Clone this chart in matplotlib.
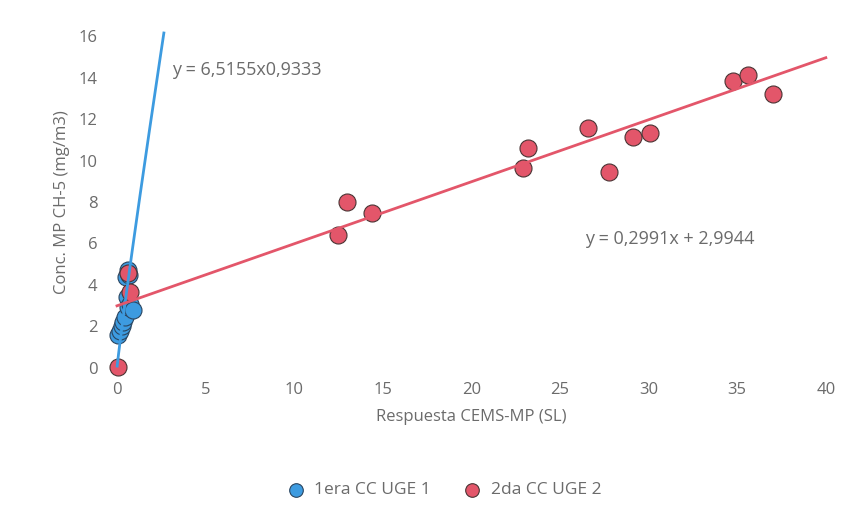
import numpy as np
import matplotlib.pyplot as plt

plt.rcParams['font.family'] = ['Open Sans', 'DejaVu Sans']

# 1era CC UGE 1 (respuesta, concentracion)
uge1_x = [0.06, 0.15, 0.28, 0.35, 0.45, 0.56, 0.62, 0.75, 0.9, 0.5, 0.6, 0.7]
uge1_y = [1.6, 1.8, 2.0, 2.2, 2.46, 3.4, 2.94, 3.1, 2.8, 4.4, 4.7, 4.5]

# 2da CC UGE 2
uge2_x = [0.05, 0.62, 0.73, 12.47, 12.98, 14.4, 22.9, 23.2, 26.6, 27.76, 29.1, 30.1, 34.75, 35.6, 37.0]
uge2_y = [0.05, 4.58, 3.66, 6.41, 8.0, 7.47, 9.64, 10.6, 11.57, 9.45, 11.13, 11.33, 13.83, 14.12, 13.2]

# trendlines reported on the chart
pow_a, pow_b = 6.5155, 0.9333
lin_m, lin_c = 0.2991, 2.9944

text_col = '#6b6b6b'
blue = '#3d9be0'
red = '#e3566a'

fig = plt.figure(figsize=(8.54, 5.16), dpi=100)
ax = fig.add_axes([0.137, 0.287, 0.830, 0.643])

ax.scatter(uge2_x, uge2_y, s=150, color=red, edgecolors='#4a3434', linewidths=0.8,
           zorder=3, clip_on=False, label='2da CC UGE 2')
ax.scatter(uge1_x, uge1_y, s=150, color=blue, edgecolors='#2a4560', linewidths=0.8,
           zorder=2, clip_on=False, label='1era CC UGE 1')

# power fit for UGE 1
xp = np.linspace(0.01, (16.15 / pow_a) ** (1 / pow_b), 200)
ax.plot(xp, pow_a * xp ** pow_b, color=blue, lw=2.0, zorder=4, clip_on=False)

# linear fit for UGE 2
xl = np.array([0.0, 40.0])
ax.plot(xl, lin_m * xl + lin_c, color=red, lw=2.0, zorder=4, clip_on=False)

ax.text(3.1, 14.35, 'y = 6,5155x0,9333', color=text_col, fontsize=13, va='center')
ax.text(26.4, 6.2, 'y = 0,2991x + 2,9944', color=text_col, fontsize=13, va='center')

ax.set_xlim(0, 40)
ax.set_ylim(0, 16)
ax.set_xticks(range(0, 41, 5))
ax.set_yticks(range(0, 17, 2))
ax.tick_params(length=0, labelsize=12, labelcolor=text_col, pad=10)
ax.tick_params(axis='y', pad=14)
for s in ax.spines.values():
    s.set_visible(False)

ax.set_xlabel('Respuesta CEMS-MP (SL)', color=text_col, fontsize=12, labelpad=8)
ax.set_ylabel('Conc. MP CH-5 (mg/m3)', color=text_col, fontsize=12, labelpad=6)

h, l = ax.get_legend_handles_labels()
leg = fig.legend(h[::-1], l[::-1], loc='center', bbox_to_anchor=(0.515, 0.05), ncol=2,
                 frameon=False, fontsize=12.5, handletextpad=0.05, columnspacing=1.4,
                 markerscale=0.8)
for t in leg.get_texts():
    t.set_color(text_col)

fig.savefig('out.png', dpi=100)
